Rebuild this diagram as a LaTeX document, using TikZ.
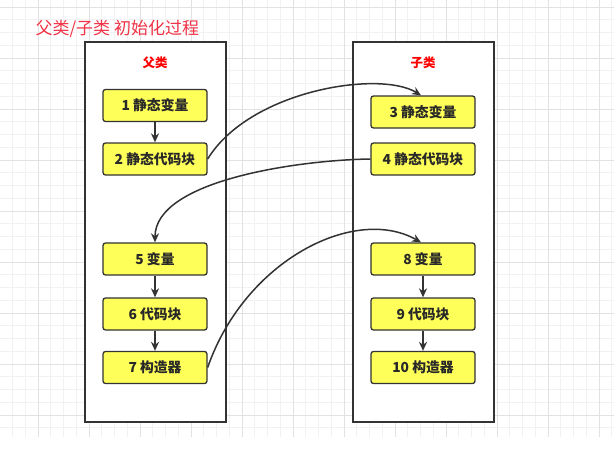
\documentclass[tikz,border=0pt]{standalone}
\usepackage{fontspec}
\setmainfont{Noto Sans CJK SC}
\usetikzlibrary{arrows.meta}
\definecolor{edge}{RGB}{51,51,51}
\definecolor{txt}{RGB}{40,40,40}
\definecolor{boxyellow}{RGB}{255,255,90}
\definecolor{titlered}{RGB}{240,50,70}
\definecolor{labelred}{RGB}{255,0,0}
\definecolor{gridminor}{RGB}{242,242,242}
\definecolor{gridmajor}{RGB}{226,226,226}
\begin{document}
\begin{tikzpicture}[x=1pt,y=-1pt,
  stepbox/.style={draw=edge, fill=boxyellow, line width=1.3pt, rounded corners=2.5pt,
    minimum width=104pt, minimum height=32pt, inner sep=0pt,
    font=\fontsize{13.8pt}{16pt}\selectfont\bfseries, text=txt},
  frame/.style={draw=edge, fill=white, line width=1.3pt, minimum width=141pt,
    minimum height=380pt, inner sep=0pt},
  grouplabel/.style={font=\fontsize{12.5pt}{15pt}\selectfont\bfseries, text=labelred},
  link/.style={draw=edge, line width=1.5pt, -{Stealth[length=9pt,width=8pt]}},
  minorgrid/.style={draw=gridminor, line width=0.6pt},
  majorgrid/.style={draw=gridmajor, line width=0.8pt},
]
\useasboundingbox (0,0) rectangle (614,450);
\fill[white] (0,0) rectangle (614,450);
\begin{scope}
\clip (0,0) rectangle (614,437);
\foreach \i in {-3,...,46} { \draw[minorgrid] ({38+12.75*\i},0) -- ({38+12.75*\i},437); }
\foreach \j in {-1,...,35} { \draw[minorgrid] (0,{7+12.75*\j}) -- (614,{7+12.75*\j}); }
\foreach \i in {-1,...,12} { \draw[majorgrid] ({38+51*\i},0) -- ({38+51*\i},437); }
\foreach \j in {0,...,9} { \draw[majorgrid] (0,{7+51*\j}) -- (614,{7+51*\j}); }
\end{scope}

\node[anchor=west, text=titlered, font=\fontsize{17pt}{20pt}\selectfont] (title) at (32,29) {父类/子类 初始化过程};

\node[frame] (L) at (155.5,232) {};
\node[frame] (R) at (423.5,232) {};
\node[grouplabel] (Llab) at (155,63) {父类};
\node[grouplabel] (Rlab) at (423,63) {子类};

\node[stepbox] (b1) at (155,105.5) {1 静态变量};
\node[stepbox] (b2) at (155,159) {2 静态代码块};
\node[stepbox] (b5) at (155,259) {5 变量};
\node[stepbox] (b6) at (155,314) {6 代码块};
\node[stepbox] (b7) at (155,367.5) {7 构造器};

\node[stepbox] (b3) at (423,112) {3 静态变量};
\node[stepbox] (b4) at (423,159) {4 静态代码块};
\node[stepbox] (b8) at (423,259) {8 变量};
\node[stepbox] (b9) at (423,314) {9 代码块};
\node[stepbox] (b10) at (423,367.5) {10 构造器};

\draw[link] (b1) -- (b2);
\draw[link] (b5) -- (b6);
\draw[link] (b6) -- (b7);
\draw[link] (b8) -- (b9);
\draw[link] (b9) -- (b10);
\draw[link] (b2.east) .. controls (250,90) and (380,70) .. ([xshift=-2pt]b3.north);
\draw[link] (b4.west) .. controls (300,160) and (155,180) .. (b5.north);
\draw[link] (b7.east) .. controls (245,260) and (355,205) .. ([xshift=-2pt]b8.north);
\end{tikzpicture}
\end{document}
